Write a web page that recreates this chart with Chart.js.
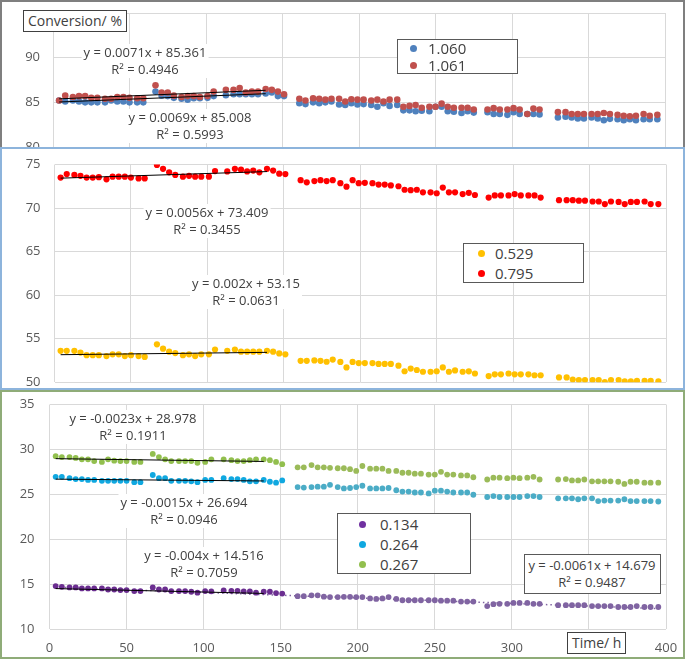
<!DOCTYPE html>
<html>
<head>
<meta charset="utf-8">
<script src="https://cdn.jsdelivr.net/npm/chart.js@4.4.1/dist/chart.umd.min.js"></script>
<style>
  body { margin: 0; width: 685px; height: 659px; position: relative; overflow: hidden; background: #fff; font-family: "Open Sans", sans-serif; color: #404040; }
  .panel { position: absolute; left: 0; width: 685px; box-sizing: border-box; background: #fff; overflow: hidden; }
  .panel canvas { position: absolute; }
  .note { position: absolute; font-size: 13px; line-height: 17px; text-align: center; white-space: nowrap; background: #fff; transform: translateX(-50%); padding: 0 2px; z-index: 5; }
  .box { position: absolute; border: 1px solid #595959; background: #fff; box-sizing: border-box; z-index: 5; }
  .item { position: absolute; font-size: 15px; line-height: 18px; white-space: nowrap; }
  .dot { position: absolute; width: 7px; height: 7px; border-radius: 50%; }
  .title { position: absolute; border: 1px solid #404040; background: #fff; font-size: 14px; line-height: 20px; padding: 0 4px; z-index: 5; white-space: nowrap; }
</style>
</head>
<body>
<div class="panel" style="top:0;height:165px;border:2px solid #7f7f7f;border-bottom:none;z-index:1">
  <canvas id="top" width="685" height="165" style="left:-2px;top:-2px"></canvas>
</div>
<div class="panel" style="top:147px;height:243px;border:2px solid #8db4dc;z-index:2">
  <canvas id="mid" width="685" height="243" style="left:-2px;top:-2px"></canvas>
</div>
<div class="panel" style="top:390px;height:269px;border:2px solid #8fac78;z-index:3">
  <canvas id="bot" width="685" height="269" style="left:-2px;top:-2px"></canvas>
</div>

<div class="title" style="left:23px;top:10px">Conversion/ %</div>
<div class="title" style="left:567px;top:632px">Time/ h</div>

<div class="note" style="left:145px;top:44px">y = 0.0071x + 85.361<br>R² = 0.4946</div>
<div class="note" style="left:190px;top:109px">y = 0.0069x + 85.008<br>R² = 0.5993</div>
<div class="note" style="left:207px;top:204px">y = 0.0056x + 73.409<br>R² = 0.3455</div>
<div class="note" style="left:246px;top:275px">y = 0.002x + 53.15<br>R² = 0.0631</div>
<div class="note" style="left:133px;top:410px">y = -0.0023x + 28.978<br>R² = 0.1911</div>
<div class="note" style="left:184px;top:494px">y = -0.0015x + 26.694<br>R² = 0.0946</div>
<div class="note" style="left:204px;top:547px">y = -0.004x + 14.516<br>R² = 0.7059</div>
<div class="box" style="left:524px;top:554px;width:137px;height:40px"></div>
<div class="note" style="left:592px;top:557px;background:none;z-index:6">y = -0.0061x + 14.679<br>R² = 0.9487</div>

<div class="box" style="left:397px;top:39px;width:121px;height:35px">
  <span class="dot" style="left:12px;top:5px;background:#4f81bd"></span><span class="item" style="left:30px;top:-1px">1.060</span>
  <span class="dot" style="left:12px;top:22px;background:#c0504d"></span><span class="item" style="left:30px;top:16px">1.061</span>
</div>
<div class="box" style="left:463px;top:243px;width:121px;height:40px">
  <span class="dot" style="left:14px;top:6px;background:#ffc000"></span><span class="item" style="left:31px;top:0px">0.529</span>
  <span class="dot" style="left:14px;top:26px;background:#ff0000"></span><span class="item" style="left:31px;top:20px">0.795</span>
</div>
<div class="box" style="left:337px;top:513px;width:134px;height:61px">
  <span class="dot" style="left:21px;top:7px;background:#7030a0"></span><span class="item" style="left:42px;top:1px">0.134</span>
  <span class="dot" style="left:21px;top:27px;background:#10a8e0"></span><span class="item" style="left:42px;top:21px">0.264</span>
  <span class="dot" style="left:21px;top:47px;background:#92bf4e"></span><span class="item" style="left:42px;top:41px">0.267</span>
</div>

<script>
const times = [4, 8, 13, 17, 21, 25, 29, 34, 38, 42, 46, 50, 55, 59,
  67, 71, 75, 79, 84, 88, 92, 96, 101, 105,
  113, 118, 122, 126, 130, 134, 139, 143, 147, 151,
  161, 165, 170, 174, 178, 182, 187, 191, 195, 199, 203, 208, 212, 216, 220, 225, 229, 233, 237, 241, 246, 250, 254, 258, 262, 267, 271, 275,
  284, 288, 292, 297, 301, 305, 310, 314, 318,
  330, 335, 339, 343, 347, 352, 356, 360, 364, 369, 373, 377, 381, 386, 390, 395];

const conv1060 = [85.2, 85.1, 85.2, 85.1, 85.0, 85.0, 85.0, 85.0, 85.2, 85.1, 85.1, 85.0, 85.0, 85.0,
  86.2, 85.75, 85.7, 85.5, 85.4, 85.3, 85.45, 85.45, 85.5, 85.7,
  85.8, 85.9, 85.9, 85.9, 85.9, 85.9, 86.0, 86.1, 85.7, 85.7,
  84.9, 84.8, 85.0, 84.9, 85.0, 85.1, 84.75, 84.7, 84.9, 84.75, 84.8, 84.7, 84.5, 84.9, 84.6, 84.7, 84.1, 84.1, 84.0, 84.05, 84.0, 84.5, 84.5, 84.0, 83.95, 83.8, 84.0, 83.85,
  83.9, 83.7, 83.7, 83.6, 83.9, 83.7, 83.7, 83.7, 83.65,
  83.3, 83.4, 83.3, 83.2, 83.2, 83.3, 83.2, 83.0, 83.15, 83.1, 83.0, 83.1, 83.0, 83.1, 83.1, 83.1];
const conv1061 = [85.2, 85.75, 85.6, 85.7, 85.7, 85.5, 85.5, 85.4, 85.4, 85.6, 85.6, 85.5, 85.45, 85.45,
  86.9, 86.1, 86.1, 85.75, 85.6, 85.7, 85.7, 85.6, 85.7, 86.2,
  86.4, 86.4, 86.6, 86.1, 86.2, 86.2, 86.5, 86.4, 86.2, 85.9,
  85.4, 85.2, 85.45, 85.4, 85.3, 85.4, 85.4, 85.1, 85.35, 85.3, 85.3, 85.2, 85.3, 85.1, 85.3, 85.3, 84.5, 84.6, 84.7, 84.4, 84.5, 84.5, 84.85, 84.5, 84.4, 84.4, 84.4, 84.2,
  84.2, 84.35, 84.2, 84.2, 84.35, 84.2, 83.7, 84.3, 84.2,
  83.9, 83.9, 83.7, 83.7, 83.7, 83.7, 83.7, 83.8, 83.7, 83.6, 83.5, 83.45, 83.5, 83.7, 83.5, 83.6];
const conv0529 = [53.6, 53.6, 53.6, 53.4, 53.1, 53.1, 53.1, 53.0, 53.2, 53.2, 53.0, 53.1, 53.0, 52.9,
  54.35, 53.85, 53.5, 53.35, 53.1, 53.2, 53.0, 53.2, 53.2, 53.75,
  53.6, 53.75, 53.5, 53.5, 53.5, 53.5, 53.6, 53.5, 53.3, 53.2,
  52.45, 52.45, 52.5, 52.45, 52.35, 52.6, 52.33, 51.7, 52.33, 52.2, 52.2, 52.2, 52.1, 52.1, 52.1, 51.9, 51.26, 51.56, 51.4, 51.2, 51.2, 51.26, 51.7, 51.2, 51.35, 51.2, 51.25, 51.0,
  50.7, 50.9, 50.9, 51.0, 50.9, 50.9, 50.9, 50.8, 50.8,
  50.55, 50.55, 50.3, 50.25, 50.25, 50.25, 50.25, 50.0, 50.25, 50.25, 50.1, 50.1, 50.15, 50.15, 50.15, 50.1];
const conv0795 = [73.5, 73.9, 73.8, 73.7, 73.5, 73.5, 73.55, 73.3, 73.6, 73.6, 73.6, 73.5, 73.4, 73.4,
  74.95, 74.5, 74.1, 73.8, 73.6, 73.7, 73.6, 73.6, 73.6, 74.25,
  74.2, 74.5, 74.4, 74.2, 74.3, 74.1, 74.5, 74.3, 73.95, 73.9,
  73.2, 72.95, 73.1, 73.2, 73.1, 73.2, 72.85, 72.45, 73.2, 72.85, 72.9, 72.85, 72.7, 72.7, 72.6, 72.5, 72.1, 72.05, 72.1, 71.8, 71.8, 71.7, 72.35, 71.8, 71.8, 71.6, 71.75, 71.5,
  71.2, 71.45, 71.45, 71.45, 71.6, 71.45, 71.45, 71.45, 71.2,
  70.9, 70.9, 70.9, 70.85, 70.85, 70.75, 70.75, 70.45, 70.75, 70.7, 70.45, 70.7, 70.7, 70.75, 70.45, 70.45];
const conv0134 = [14.78, 14.7, 14.63, 14.63, 14.52, 14.52, 14.52, 14.52, 14.4, 14.4, 14.33, 14.33, 14.22, 14.22,
  14.63, 14.4, 14.4, 14.22, 14.22, 14.22, 14.15, 14.05, 14.22, 14.2,
  14.3, 14.25, 14.25, 14.2, 14.2, 14.05, 14.15, 14.15, 14.0, 13.95,
  13.65, 13.65, 13.75, 13.75, 13.6, 13.55, 13.55, 13.58, 13.58, 13.55, 13.55, 13.4, 13.35, 13.4, 13.55, 13.35, 13.2, 13.2, 13.2, 13.2, 13.2, 13.2, 13.15, 13.15, 13.15, 13.05, 13.05, 13.05,
  12.55, 12.77, 12.8, 12.8, 12.9, 12.9, 12.9, 12.8, 12.8,
  12.65, 12.65, 12.65, 12.65, 12.65, 12.55, 12.55, 12.55, 12.55, 12.45, 12.45, 12.45, 12.55, 12.45, 12.45, 12.45];
const conv0264 = [26.95, 26.95, 26.8, 26.7, 26.7, 26.6, 26.6, 26.5, 26.5, 26.5, 26.5, 26.5, 26.35, 26.35,
  27.15, 26.8, 26.8, 26.5, 26.5, 26.5, 26.45, 26.35, 26.6, 26.6,
  26.8, 26.7, 26.7, 26.6, 26.45, 26.45, 26.6, 26.4, 26.3, 26.55,
  25.8, 25.75, 25.8, 25.85, 25.85, 26.05, 25.8, 25.65, 25.7, 25.8, 25.95, 25.65, 25.65, 25.65, 25.7, 25.45, 25.3, 25.3, 25.2, 25.2, 25.1, 25.4, 25.4, 25.3, 25.2, 25.2, 25.2, 24.95,
  24.7, 24.8, 24.7, 24.7, 24.7, 24.7, 24.8, 24.8, 24.7,
  24.55, 24.55, 24.55, 24.45, 24.55, 24.55, 24.25, 24.3, 24.3, 24.3, 24.45, 24.25, 24.25, 24.25, 24.25, 24.2];
const conv0267 = [29.25, 29.15, 29.15, 29.05, 28.9, 28.9, 28.7, 28.6, 28.9, 28.75, 28.7, 28.7, 28.6, 28.6,
  29.5, 29.15, 28.9, 28.7, 28.7, 28.7, 28.7, 28.5, 28.6, 28.9,
  28.9, 28.8, 28.7, 28.7, 28.8, 28.9, 28.9, 28.8, 28.6, 28.35,
  28.0, 28.0, 28.25, 28.0, 28.0, 27.95, 27.9, 27.9, 27.8, 27.6, 28.15, 27.85, 27.85, 27.85, 27.6, 27.6, 27.4, 27.4, 27.3, 27.3, 27.2, 27.2, 27.5, 27.2, 27.2, 27.1, 27.1, 26.9,
  26.65, 26.85, 26.85, 26.8, 26.85, 26.8, 26.85, 26.95, 26.65,
  26.65, 26.7, 26.55, 26.55, 26.65, 26.45, 26.45, 26.45, 26.45, 26.4, 26.15, 26.4, 26.4, 26.3, 26.3, 26.3];

// linear fits as printed on the chart: [slope, intercept]
const fit1060 = [0.0069, 85.008];
const fit1061 = [0.0071, 85.361];
const fit0529 = [0.002, 53.15];
const fit0795 = [0.0056, 73.409];
const fit0134 = [-0.004, 14.516];
const fit0264 = [-0.0015, 26.694];
const fit0267 = [-0.0023, 28.978];
const fit0134All = [-0.0061, 14.679];
const fitRange = [4, 139];
const fitRangeAll = [4, 395];

const xTicks = [0, 50, 100, 150, 200, 250, 300, 350, 400];

const gridColor = "#d9d9d9";
const tickColor = "#595959";
const tickFont = { family: "Open Sans", size: 13 };

function points(values) {
  return times.map((t, i) => ({ x: t, y: values[i] }));
}

function fitLine(fit, range, style) {
  return Object.assign({
    type: "scatter",
    data: range.map((x) => ({ x: x, y: fit[0] * x + fit[1] })),
    showLine: true,
    pointRadius: 0,
    borderColor: "#000",
    borderWidth: 1,
    order: 0,
  }, style);
}

function series(values, color, radius, order) {
  return {
    data: points(values),
    pointRadius: radius,
    pointBackgroundColor: color,
    pointBorderWidth: 0,
    pointHoverRadius: radius,
    order: order,
  };
}

// two tones: the first run (up to 151 h) and the rest
function split(early, late) {
  return times.map((t) => (t <= 151 ? early : late));
}

// tick gaps come from an invisible tickLength, since ticks.padding also
// pads the chart area vertically
function makeChart(id, box, height, yMin, yMax, yGap, showX, yLabelMax) {
  return (datasets) => new Chart(document.getElementById(id), {
    type: "scatter",
    data: { datasets: datasets },
    options: {
      responsive: false,
      animation: false,
      events: [],
      layout: { padding: { top: box.top, right: 685 - box.right, left: 0, bottom: 0 } },
      plugins: { legend: { display: false }, tooltip: { enabled: false } },
      scales: {
        x: {
          type: "linear",
          min: 0,
          max: 400,
          afterBuildTicks: (scale) => { scale.ticks = xTicks.map((v) => ({ value: v })); },
          ticks: { display: showX, color: tickColor, font: tickFont, padding: 0, maxRotation: 0 },
          grid: { color: gridColor, drawTicks: showX, tickLength: 11, tickColor: "rgba(0,0,0,0)" },
          border: { display: false },
          afterFit: (scale) => { scale.height = height - box.bottom; },
        },
        y: {
          min: yMin,
          max: yMax,
          ticks: {
            stepSize: 5, color: tickColor, font: tickFont, padding: 0,
            callback: (v) => (v > yLabelMax ? "" : v),
          },
          grid: { color: gridColor, drawTicks: true, tickLength: yGap, tickColor: "rgba(0,0,0,0)" },
          border: { display: false },
          afterFit: (scale) => { scale.width = box.left; },
        },
      },
    },
  });
}

makeChart("top", { left: 53, right: 665, top: 13, bottom: 147 }, 165, 80, 95, 13, false, 90)([
  fitLine(fit1061, fitRange),
  fitLine(fit1060, fitRange),
  series(conv1061, "#c0504d", 3.3, 1),
  series(conv1060, "#4f81bd", 3.3, 2),
]);

makeChart("mid", { left: 54.5, right: 666, top: 17.5, bottom: 235.5 }, 243, 50, 75, 14, false, 75)([
  fitLine(fit0795, fitRange),
  fitLine(fit0529, fitRange),
  series(conv0795, "#ff0000", 3.1, 1),
  series(conv0529, "#ffc000", 3.1, 2),
]);

makeChart("bot", { left: 49.5, right: 666, top: 14.5, bottom: 239 }, 269, 10, 35, 15, true, 35)([
  fitLine(fit0267, fitRange),
  fitLine(fit0264, fitRange),
  fitLine(fit0134, fitRange),
  series(conv0267, split("#92bf4e", "#9bbb59"), 2.9, 1),
  series(conv0264, split("#10a8e0", "#4bacc6"), 2.9, 2),
  series(conv0134, split("#6b2e90", "#8064a2"), 2.9, 3),
  fitLine(fit0134All, fitRangeAll, { borderColor: "#8064a2", borderWidth: 1.5, borderDash: [1.5, 3], order: 4 }),
]);
</script>
</body>
</html>
